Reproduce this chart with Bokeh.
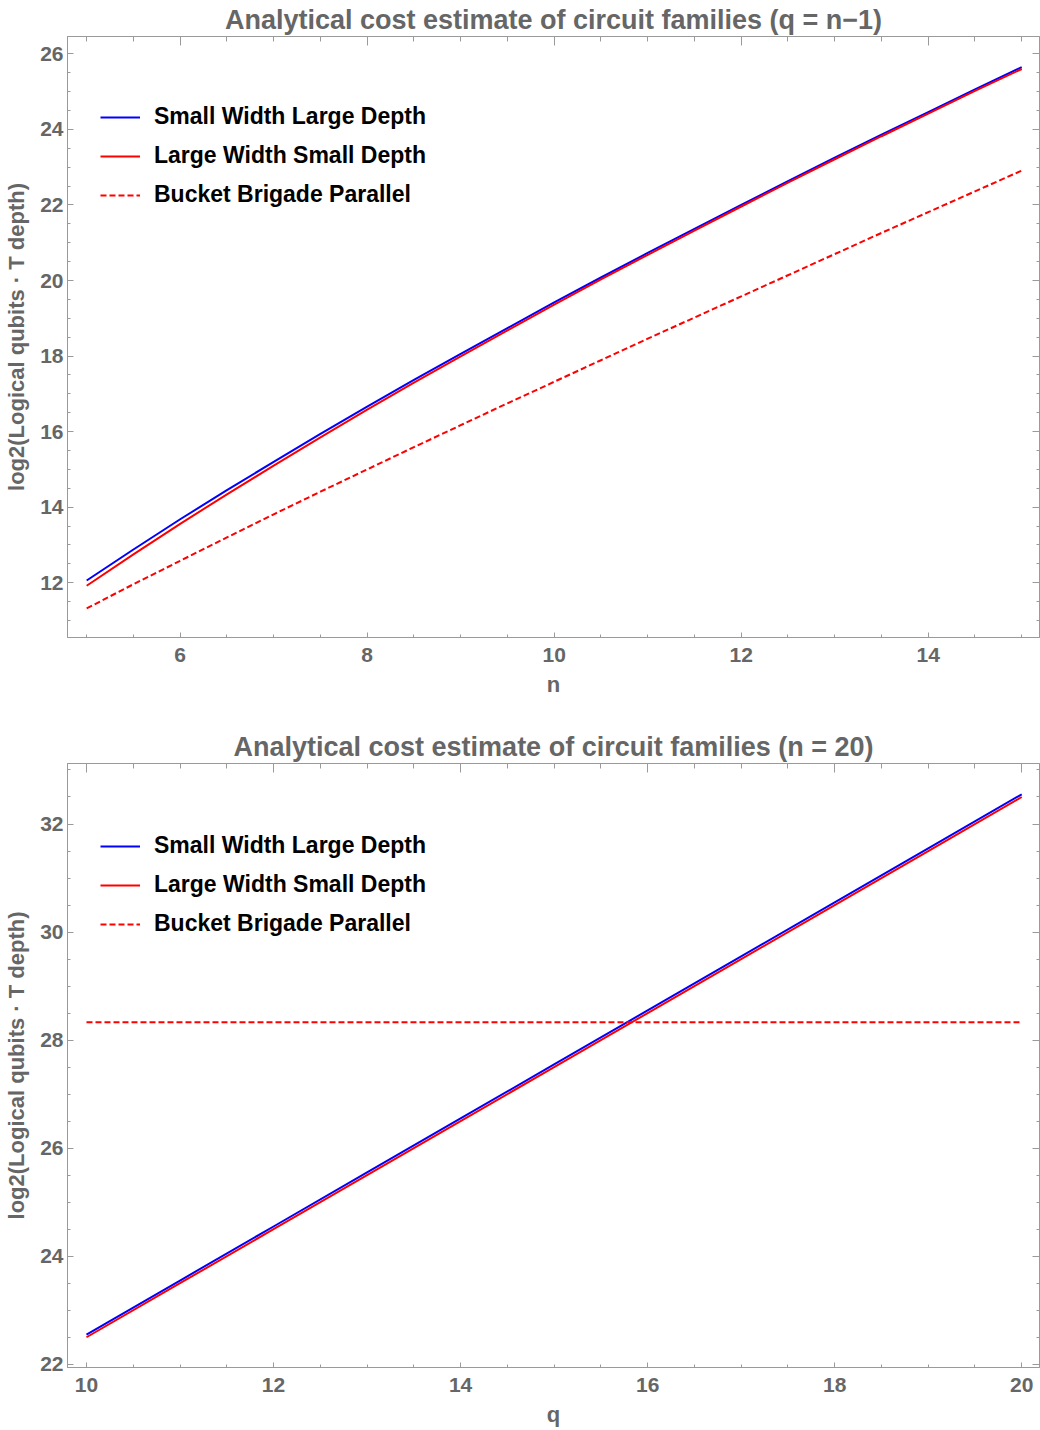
from bokeh.plotting import figure
from bokeh.layouts import column
from bokeh.models import (LinearAxis, Range1d, Legend, LegendItem,
                          SingleIntervalTicker, CustomJSTickFormatter)
from bokeh.embed import file_html
from bokeh.resources import INLINE

# ---- data ----
n_vals = [5, 5.5, 6, 6.5, 7, 7.5, 8, 8.5, 9, 9.5, 10,
          10.5, 11, 11.5, 12, 12.5, 13, 13.5, 14, 14.5, 15]
swld_top = [12.06, 12.88, 13.68, 14.45, 15.20, 15.94, 16.66, 17.37, 18.06, 18.74, 19.42,
            20.08, 20.73, 21.37, 22.00, 22.63, 23.25, 23.86, 24.46, 25.06, 25.65]
lwsd_top = [11.92, 12.75, 13.56, 14.34, 15.10, 15.85, 16.58, 17.30, 17.99, 18.68, 19.36,
            20.03, 20.68, 21.32, 21.96, 22.59, 23.21, 23.82, 24.42, 25.02, 25.60]
bbp_top = [11.32, 11.96, 12.58, 13.20, 13.81, 14.41, 15.00, 15.59, 16.17, 16.75, 17.32,
           17.89, 18.46, 19.02, 19.58, 20.14, 20.70, 21.26, 21.81, 22.36, 22.91]

q_vals = [10, 11, 12, 13, 14, 15, 16, 17, 18, 19, 20]
swld_bot = [22.55, 23.55, 24.55, 25.55, 26.55, 27.55, 28.55, 29.55, 30.55, 31.55, 32.55]
lwsd_bot = [22.50, 23.50, 24.50, 25.50, 26.50, 27.50, 28.50, 29.50, 30.50, 31.50, 32.50]
bbp_bot = [28.33, 28.33, 28.33, 28.33, 28.33, 28.33, 28.33, 28.33, 28.33, 28.33, 28.33]

series_names = ["Small Width Large Depth", "Large Width Small Depth", "Bucket Brigade Parallel"]
titles = ["Analytical cost estimate of circuit families (q = n\u22121)",
          "Analytical cost estimate of circuit families (n = 20)"]
y_label = "log2(Logical qubits \u00b7 T depth)"

FONT = "Liberation Sans"
GRAY = "#666666"
FRAME = "#9a9a9a"


def style_axis(ax, labels=True, tick_major=6, tick_minor=3):
    ax.ticker = SingleIntervalTicker(interval=2, num_minor_ticks=4)
    ax.axis_line_color = FRAME
    ax.major_tick_line_color = FRAME
    ax.minor_tick_line_color = FRAME
    ax.major_tick_in = tick_major
    ax.major_tick_out = 0
    ax.minor_tick_in = tick_minor
    ax.minor_tick_out = 0
    if labels:
        ax.major_label_text_font = FONT
        ax.major_label_text_font_style = "bold"
        ax.major_label_text_font_size = "21px"
        ax.major_label_text_color = GRAY
        ax.axis_label_text_font = FONT
        ax.axis_label_text_font_style = "bold"
        ax.axis_label_text_font_size = "22px"
        ax.axis_label_text_color = GRAY
    else:
        ax.formatter = CustomJSTickFormatter(code="return ''")
        ax.major_label_standoff = 0


def make_fig(title, xr, yr, xlabel, height, top_b, bottom_b, xs, ys, legend_vy,
             title_standoff, title_valign):
    p = figure(width=1040, height=height, x_range=Range1d(*xr), y_range=Range1d(*yr),
               output_backend="svg", toolbar_location=None,
               min_border_left=67, min_border_right=1,
               min_border_top=top_b, min_border_bottom=bottom_b)
    p.title.text = title
    p.title.align = "center"
    p.title.vertical_align = title_valign
    p.title.text_font = FONT
    p.title.text_font_size = "27px"
    p.title.text_font_style = "bold"
    p.title.text_color = GRAY
    p.title.standoff = title_standoff
    p.xgrid.visible = False
    p.ygrid.visible = False
    p.outline_line_color = FRAME
    p.background_fill_color = "white"
    p.border_fill_color = "white"

    style_axis(p.xaxis[0], tick_major=5, tick_minor=3)
    p.xaxis[0].axis_label = xlabel
    p.xaxis[0].major_label_standoff = 10
    p.xaxis[0].axis_label_standoff = 7
    style_axis(p.yaxis[0], tick_major=6, tick_minor=3)
    p.yaxis[0].axis_label = y_label
    p.yaxis[0].major_label_standoff = 4
    p.yaxis[0].axis_label_standoff = 8

    top_ax = LinearAxis()
    style_axis(top_ax, labels=False, tick_major=9, tick_minor=5)
    p.add_layout(top_ax, "above")
    right_ax = LinearAxis()
    style_axis(right_ax, labels=False, tick_major=7, tick_minor=3)
    p.add_layout(right_ax, "right")

    r1 = p.line(xs, ys[0], line_color="#0000FF", line_width=2)
    r2 = p.line(xs, ys[1], line_color="#FF0000", line_width=2)
    r3 = p.line(xs, ys[2], line_color="#FF0000", line_width=2, line_dash="6 3")

    legend = Legend(items=[LegendItem(label=series_names[0], renderers=[r1]),
                           LegendItem(label=series_names[1], renderers=[r2]),
                           LegendItem(label=series_names[2], renderers=[r3])],
                    location=(33, legend_vy))
    legend.label_text_font = FONT
    legend.label_text_font_style = "bold"
    legend.label_text_font_size = "23px"
    legend.label_text_color = "black"
    legend.glyph_width = 40
    legend.glyph_height = 26
    legend.label_height = 26
    legend.label_standoff = 14
    legend.spacing = 12
    legend.padding = 0
    legend.margin = 0
    legend.background_fill_alpha = 0
    legend.border_line_alpha = 0
    p.add_layout(legend)
    return p


p1 = make_fig(titles[0], (4.795, 15.19), (10.55, 26.46), "n", 712, 36, 75,
              n_vals, [swld_top, lwsd_top, bbp_top], 429, 0, "top")
p2 = make_fig(titles[1], (9.797, 20.19), (21.94, 33.12), "q", 718, 51, 63,
              q_vals, [swld_bot, lwsd_bot, bbp_bot], 430, 3, "bottom")

layout = column(p1, p2, spacing=0)
open("out.html", "w").write(file_html(layout, INLINE))
